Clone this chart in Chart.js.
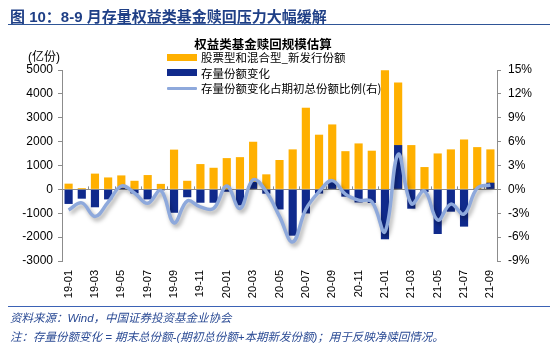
<!DOCTYPE html>
<html>
<head>
<meta charset="utf-8">
<script src="https://cdn.jsdelivr.net/npm/chart.js@4.4.1/dist/chart.umd.min.js"></script>
<style>
  html, body { margin: 0; padding: 0; background: #fff; }
  #wrap { position: relative; width: 550px; height: 347px; overflow: hidden; font-family: "Liberation Sans", Arial, "Noto Sans CJK SC", sans-serif; }
  #chart { position: absolute; left: 0; top: 0; }
  .abs { position: absolute; white-space: nowrap; }
  #figTitle { left: 10px; top: 5px; font-size: 15px; font-weight: bold; color: #1f3f86; font-family: "Liberation Sans", Arial, "Noto Sans CJK SC", sans-serif; }
  #topRule { left: 8px; top: 24px; width: 542px; height: 0; border-top: 1.5px solid #2f5597; }
  #chartTitle { left: 263px; top: 34px; transform: translateX(-50%); font-size: 12.5px; font-weight: bold; color: #000; font-family: "Noto Sans CJK SC", sans-serif; }
  #unit { left: 28px; top: 47px; font-size: 12px; color: #000; font-family: "Liberation Sans", "Noto Sans CJK SC", sans-serif; }
  .legRow { position: absolute; left: 167px; height: 14px; display: flex; align-items: center; font-size: 11.5px; color: #000; font-family: "Noto Sans CJK SC", sans-serif; white-space: nowrap; }
  .sw { width: 30px; height: 7px; margin-right: 4px; }
  .swLine { width: 30px; height: 3px; margin-right: 4px; border-radius: 1px; }
  #botRule { left: 8px; top: 306px; width: 542px; height: 0; border-top: 1.5px solid #3b62b5; }
  .note { left: 10px; font-size: 11.5px; font-style: italic; color: #2a4a94; font-family: "Liberation Sans", "Noto Sans CJK SC", sans-serif; }
</style>
</head>
<body>
<div id="wrap">
  <canvas id="chart" width="550" height="347"></canvas>
  <div id="figTitle" class="abs">图 10：8-9 月存量权益类基金赎回压力大幅缓解</div>
  <div id="topRule" class="abs"></div>
  <div id="chartTitle" class="abs">权益类基金赎回规模估算</div>
  <div id="unit" class="abs">(亿份)</div>
  <div id="legend"></div>
  <div id="botRule" class="abs"></div>
  <div class="abs note" style="top:309px;">资料来源：Wind，中国证券投资基金业协会</div>
  <div class="abs note" style="top:328px;">注：存量份额变化 = 期末总份额-(期初总份额+本期新发份额)；用于反映净赎回情况。</div>
</div>
<script>
// Months 2019-01 .. 2021-09
const months = [
  '19-01','19-02','19-03','19-04','19-05','19-06','19-07','19-08','19-09','19-10','19-11','19-12',
  '20-01','20-02','20-03','20-04','20-05','20-06','20-07','20-08','20-09','20-10','20-11','20-12',
  '21-01','21-02','21-03','21-04','21-05','21-06','21-07','21-08','21-09'
];

// New issuance of equity + hybrid funds (亿份)
const newIssue = [
  240, 55, 660, 500, 585, 360, 600, 230, 1665, 360, 1060, 905,
  1310, 1350, 1995, 630, 1230, 1675, 3420, 2290, 2720, 1600, 1925, 1620,
  4990, 4480, 1855, 935, 1505, 1675, 2090, 1770, 1675
];

// Change of existing shares (亿份)
const stockChange = [
  -610, -390, -750, -420, 60, -170, -420, -40, -980, -330, -560, -560,
  -100, -670, 310, -180, -840, -1940, -1010, -175, 345, -305, -550, -570,
  -2090, 1855, -810, -110, -1870, -935, -1560, 30, 280
];

// Change as a share of total shares at start of period (%)
const changePct = [
  -2.6, -1.7, -3.4, -1.6, 0.42, -0.45, -1.75, -0.15, -4.2, -1.45, -2.2, -2.4,
  0.42, -2.4, 1.2, -0.3, -3.4, -6.6, -2.5, -0.3, 1.1, -0.6, -1.35, -1.55,
  -5.3, 4.4, -1.8, -0.2, -3.85, -1.85, -3.1, 0.15, 0.55
];

const seriesNames = ['股票型和混合型_新发行份额', '存量份额变化', '存量份额变化占期初总份额比例(右)'];
const leftTicks = [5000, 4000, 3000, 2000, 1000, 0, -1000, -2000, -3000];
const rightTicks = [15, 12, 9, 6, 3, 0, -3, -6, -9];

const ORANGE = '#FFB000';
const NAVY = '#102A8C';
const LIGHT = '#8EA9DC';
const AXIS = '#8c8c8c';

// legend built from the series names
const legendEl = document.getElementById('legend');
const swatches = [
  { cls: 'sw', color: ORANGE, top: 50 },
  { cls: 'sw', color: NAVY, top: 65.5 },
  { cls: 'swLine', color: LIGHT, top: 81 }
];
seriesNames.forEach((name, i) => {
  const row = document.createElement('div');
  row.className = 'legRow';
  row.style.top = swatches[i].top + 'px';
  const s = document.createElement('div');
  s.className = swatches[i].cls;
  s.style.background = swatches[i].color;
  const t = document.createElement('span');
  t.textContent = name;
  row.appendChild(s);
  row.appendChild(t);
  legendEl.appendChild(row);
});

// soft drop shadow under the ratio line
const lineShadow = {
  id: 'lineShadow',
  beforeDatasetDraw(chart, args) {
    if (args.meta.type !== 'line') return;
    const ctx = chart.ctx;
    ctx.save();
    ctx.shadowColor = 'rgba(0,0,0,0.35)';
    ctx.shadowBlur = 4;
    ctx.shadowOffsetX = 2;
    ctx.shadowOffsetY = 3;
  },
  afterDatasetDraw(chart, args) {
    if (args.meta.type !== 'line') return;
    chart.ctx.restore();
  }
};

// small upward tick marks on the zero line, every two months
const zeroTicks = {
  id: 'zeroTicks',
  beforeDatasetsDraw(chart) {
    const x = chart.scales.x, y = chart.scales.y;
    const ctx = chart.ctx;
    const y0 = y.getPixelForValue(0);
    const step = (x.right - x.left) / months.length;
    ctx.save();
    ctx.strokeStyle = AXIS;
    ctx.lineWidth = 1;
    ctx.beginPath();
    for (let i = 2; i < months.length; i += 2) {
      const px = Math.round(x.left + step * i) + 0.5;
      ctx.moveTo(px, y0);
      ctx.lineTo(px, y0 - 3);
    }
    ctx.stroke();
    ctx.restore();
  }
};

new Chart(document.getElementById('chart'), {
  data: {
    labels: months,
    datasets: [
      {
        type: 'line',
        label: seriesNames[2],
        data: changePct,
        yAxisID: 'y1',
        borderColor: LIGHT,
        borderWidth: 3.5,
        pointRadius: 0,
        tension: 0.4,
        order: 0
      },
      {
        type: 'bar',
        label: seriesNames[1],
        data: stockChange,
        yAxisID: 'y',
        backgroundColor: NAVY,
        grouped: false,
        barPercentage: 0.62,
        categoryPercentage: 1,
        order: 1
      },
      {
        type: 'bar',
        label: seriesNames[0],
        data: newIssue,
        yAxisID: 'y',
        backgroundColor: ORANGE,
        grouped: false,
        barPercentage: 0.62,
        categoryPercentage: 1,
        order: 2
      }
    ]
  },
  options: {
    responsive: false,
    animation: false,
    devicePixelRatio: 1,
    layout: { padding: { top: 70, left: 0, right: 0, bottom: 0 } },
    plugins: {
      legend: { display: false },
      title: { display: false },
      tooltip: { enabled: false }
    },
    scales: {
      x: {
        type: 'category',
        offset: true,
        grid: { display: false, drawTicks: false },
        border: { display: false },
        ticks: {
          autoSkip: false,
          minRotation: 90,
          maxRotation: 90,
          padding: 9,
          color: '#000',
          font: { family: 'Liberation Sans, Arial', size: 11 },
          callback: (v, i) => (i % 2 === 0 ? months[i] : '')
        },
        afterFit: s => { s.height = 86; }
      },
      y: {
        position: 'left',
        min: -3000,
        max: 5000,
        afterBuildTicks: s => { s.ticks = leftTicks.map(v => ({ value: v })); },
        grid: {
          drawOnChartArea: true,
          color: c => (c.tick && c.tick.value === 0 ? AXIS : 'rgba(0,0,0,0)'),
          tickColor: AXIS,
          tickLength: 4,
          lineWidth: 1
        },
        border: { display: true, color: AXIS, width: 1 },
        ticks: {
          padding: 5,
          color: '#000',
          font: { family: 'Liberation Sans, Arial', size: 12 },
          callback: v => String(v)
        },
        afterFit: s => { s.width = 62; }
      },
      y1: {
        position: 'right',
        min: -9,
        max: 15,
        afterBuildTicks: s => { s.ticks = rightTicks.map(v => ({ value: v })); },
        grid: {
          drawOnChartArea: false,
          tickColor: AXIS,
          tickLength: 4
        },
        border: { display: true, color: AXIS, width: 1 },
        ticks: {
          padding: 7,
          color: '#000',
          font: { family: 'Liberation Sans, Arial', size: 12 },
          callback: v => v + '%'
        },
        afterFit: s => { s.width = 53; }
      }
    }
  },
  plugins: [lineShadow, zeroTicks]
});
</script>
</body>
</html>
